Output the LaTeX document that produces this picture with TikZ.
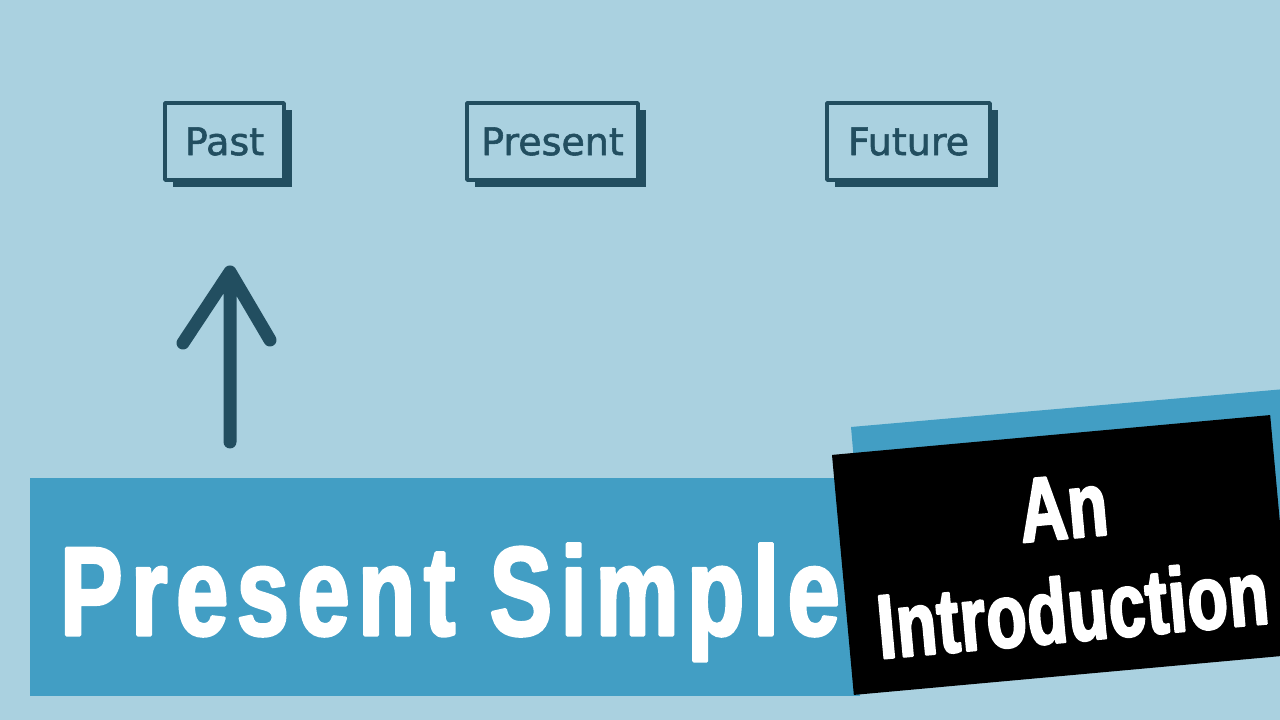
\documentclass[tikz,border=0pt]{standalone}
\usepackage{fontspec}
\usetikzlibrary{shadows}
\setmainfont{DejaVu Sans}
\newfontfamily\boxfont[FakeBold=1.5]{DejaVu Sans}
\newfontfamily\titlefont[FakeStretch=0.74,LetterSpace=7,FakeBold=2.5]{Liberation Sans Bold}
\newfontfamily\tagfont[FakeStretch=0.72,LetterSpace=1,FakeBold=2.5]{Liberation Sans Bold}
\definecolor{bgblue}{RGB}{170,209,224}
\definecolor{bannerblue}{RGB}{66,158,196}
\definecolor{inkdark}{RGB}{34,78,96}
\begin{document}
\begin{tikzpicture}[x=1pt,y=1pt,line join=round,line cap=round,
	timebox/.style={draw=inkdark,line width=3.5pt,fill=bgblue,text=inkdark,minimum height=77pt,inner sep=0pt,
		font=\boxfont\fontsize{38}{40}\selectfont,
		drop shadow={shadow xshift=8pt,shadow yshift=-7pt,fill=inkdark,opacity=1}},
	arrowline/.style={draw=inkdark,line width=13pt}]
	\def\W{1280}
	\def\H{720}
	\useasboundingbox (0,0) rectangle (\W,\H);
	\clip (0,0) rectangle (\W,\H);
	\fill [bgblue] (0,0) rectangle (\W,\H);
	% time line boxes
	\node [timebox,minimum width=119pt] (past) at (224.5,578.5) {Past};
	\node [timebox,minimum width=171pt] (present) at (552.5,578.5) {Present};
	\node [timebox,minimum width=163pt] (future) at (908.5,578.5) {Future};
	% arrow under Past
	\coordinate (tail) at (230,278);
	\coordinate (tip) at (230,448);
	\draw [arrowline] (tail)--(tip) (tip)--++(-47,-71) (tip)--++(40,-68);
	% title banners
	\fill [bannerblue] (30,24) rectangle (860,242);
	\node [anchor=base west,inner sep=0pt,text=white,font=\titlefont\fontsize{126}{130}\selectfont] (title) at (60,85) {Present Simple};
	\fill [bannerblue,rotate around={5:(851,293)}] (851,293) rectangle ++(520,-160);
	\node [rotate=5.2,fill=black,minimum width=440pt,minimum height=241pt,inner sep=0pt] (tagbox) at (1062,165) {};
	\node [rotate=5.2,align=center,text=white,inner sep=0pt,font=\tagfont\fontsize{91}{103}\selectfont] (tag) at ([xshift=6pt,yshift=-4pt]tagbox.center) {An\\Introduction};
\end{tikzpicture}
\end{document}
